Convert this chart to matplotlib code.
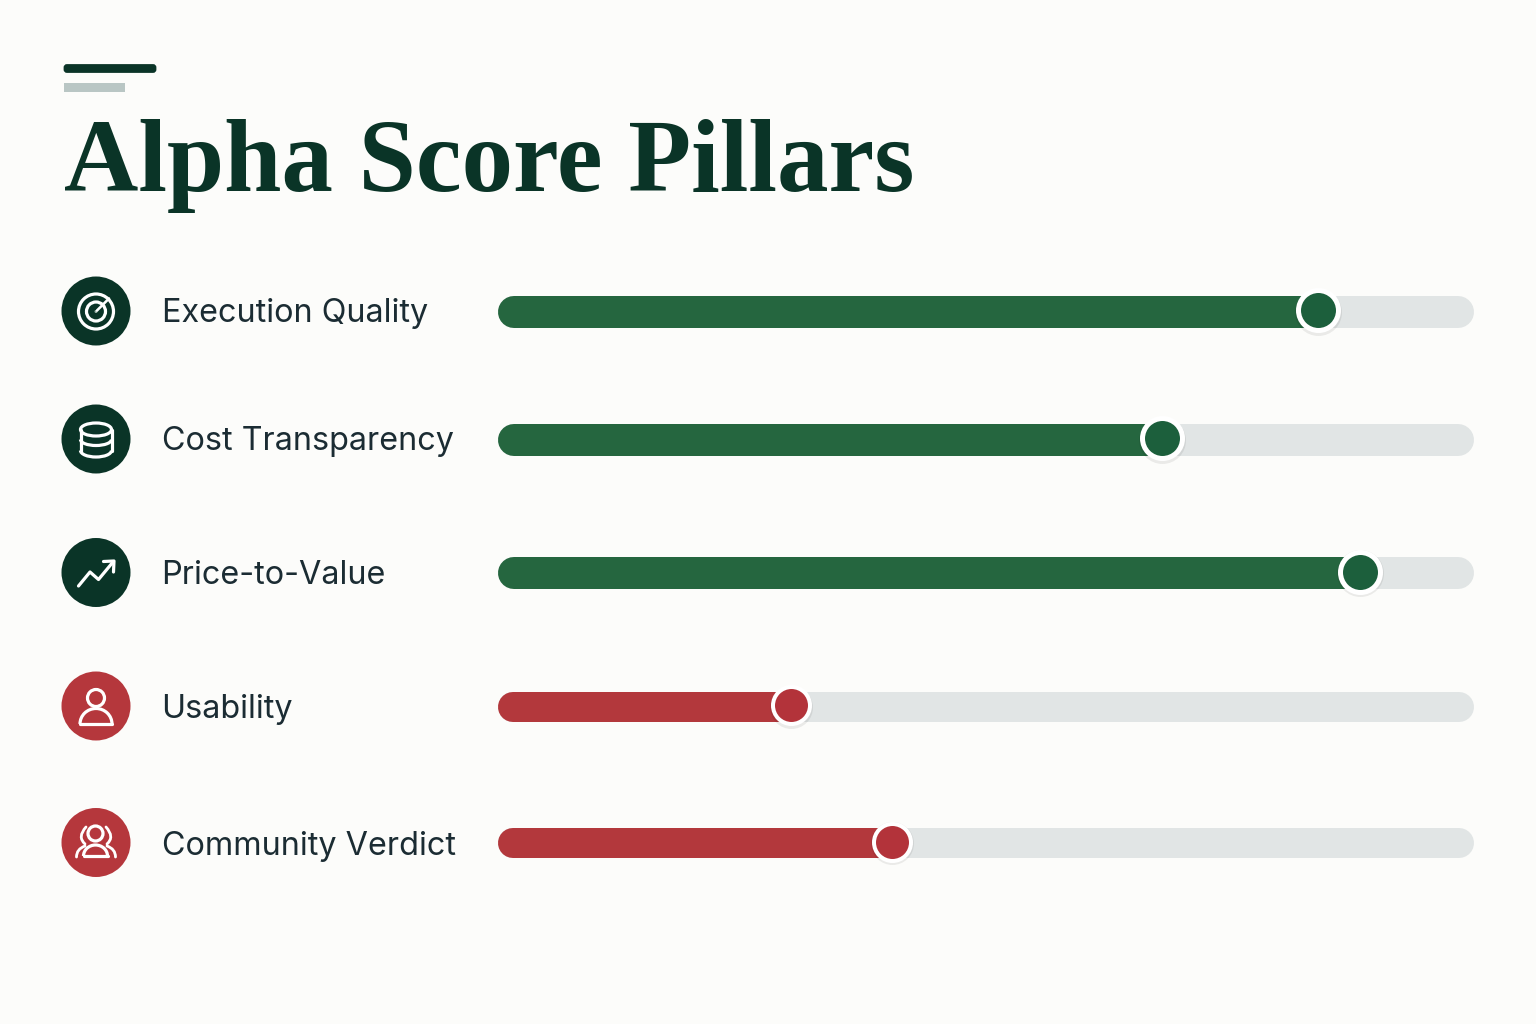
import matplotlib
matplotlib.use("Agg")
import matplotlib.pyplot as plt
from matplotlib.patches import Circle, Ellipse, Arc, FancyBboxPatch, PathPatch, Rectangle
from matplotlib.path import Path

labels = ["Execution Quality", "Cost Transparency", "Price-to-Value", "Usability", "Community Verdict"]
scores = [84.0, 68.0, 88.3, 30.0, 40.4]
status = ["good", "good", "good", "bad", "bad"]

row_y = [311.5, 439.5, 573, 706.5, 843]
bar_height = [32, 32, 32, 30, 30]
knob_r = [17.5, 17.5, 17.5, 16.5, 16.5]
knob_ring = [5, 5, 5, 4, 4]

BG = "#fcfcfa"
DARK = "#0a3427"
GREEN = "#25663f"
RED = "#b3383c"
TRACK = "#e1e5e5"
KNOB = {"good": "#1c5f3c", "bad": "#b3333a"}
BAR = {"good": GREEN, "bad": RED}
ICON = {"good": DARK, "bad": "#b5373c"}
PX = 0.72  # px to points at dpi 100

fig = plt.figure(figsize=(15.36, 10.24), dpi=100, facecolor=BG)

# page axes in pixels, for title and icons
page = fig.add_axes([0, 0, 1, 1])
page.set_xlim(0, 1536)
page.set_ylim(1024, 0)
page.axis("off")

page.add_patch(FancyBboxPatch((65, 65.5), 90, 6, boxstyle="round,pad=0,rounding_size=2", fc=DARK, ec=DARK, lw=2))
page.add_patch(Rectangle((63.5, 83), 61.5, 8.5, fc="#b9c6c4", ec="none"))
page.text(64, 191, "Alpha Score Pillars", family="Liberation Serif", weight="bold",
          fontsize=74.2, color=DARK, va="baseline", ha="left")


def stroke(points, lw=3.2):
    xs, ys = zip(*points)
    page.plot(xs, ys, color="white", lw=lw * PX, solid_capstyle="round", solid_joinstyle="round", zorder=4)


def ring(x, y, r, lw=3.2):
    page.add_patch(Circle((x, y), r, fc="none", ec="white", lw=lw * PX, zorder=4))


def curve(points, lw=3.2):
    # quadratic curve through a control point
    path = Path(points, [Path.MOVETO, Path.CURVE3, Path.CURVE3])
    page.add_patch(PathPatch(path, fc="none", ec="white", lw=lw * PX, capstyle="round", zorder=4))


def dome(x, base, w, h, lw=3.2):
    page.add_patch(Arc((x, base), w, 2 * h, theta1=180, theta2=360, ec="white", lw=lw * PX, zorder=4))


def target_icon(x, y):
    ring(x, y, 17.5)
    ring(x, y, 9.5)
    page.add_patch(Circle((x, y), 1.5, fc="#9fb5ab", ec="none", zorder=4))
    stroke([(x + 1, y - 1), (x + 13, y - 13)], 2.6)


def database_icon(x, y):
    page.add_patch(Ellipse((x, y - 10), 31, 13, fc="none", ec="white", lw=3.2 * PX, zorder=4))
    stroke([(x - 15.5, y - 10), (x - 15.5, y + 11)], 3.2)
    stroke([(x + 15.5, y - 10), (x + 15.5, y + 11)], 3.2)
    page.add_patch(Arc((x, y), 31, 12, theta1=0, theta2=180, ec="white", lw=3.2 * PX, zorder=4))
    page.add_patch(Arc((x, y + 11), 31, 13, theta1=0, theta2=180, ec="white", lw=3.2 * PX, zorder=4))


def trend_icon(x, y):
    stroke([(x - 17.5, y + 13), (x - 6, y - 1), (x + 2.5, y + 6.5), (x + 17, y - 11)])
    stroke([(x + 7.5, y - 11.5), (x + 18, y - 12), (x + 17.5, y - 1)])


def person_icon(x, y):
    ring(x, y - 8.5, 8.5)
    dome(x, y + 17.5, 32, 15.5)
    stroke([(x - 16, y + 17.5), (x + 16, y + 17.5)])


def group_icon(x, y):
    ring(x - 0.5, y - 9.5, 7.5)
    dome(x - 0.5, y + 13, 24, 11)
    stroke([(x - 12.5, y + 13), (x + 11.5, y + 13)])
    for side in (-1, 1):
        curve([(x + side * 10, y - 16), (x + side * 19, y - 6), (x + side * 11, y + 1)], 2.8)
        curve([(x + side * 11, y + 3), (x + side * 19.5, y + 6), (x + side * 19.5, y + 14)], 2.8)


icons = [target_icon, database_icon, trend_icon, person_icon, group_icon]
label_base = [322, 450, 584, 718, 855]

for i in range(len(labels)):
    page.add_patch(Circle((96, row_y[i] - 0.5), 34.5, fc=ICON[status[i]], ec="none", zorder=3))
    icons[i](96, row_y[i])
    page.text(161.5, label_base[i], labels[i], family="Inter", fontsize=23.3, color="#1b2c33",
              va="baseline", ha="left")

# bars share a 0-100 axis laid over the track width
ax = fig.add_axes([498 / 1536, 0, 976 / 1536, 1])
ax.set_xlim(0, 100)
ax.set_ylim(1024, 0)
ax.axis("off")
ax.patch.set_alpha(0)

for i in range(len(labels)):
    cap = bar_height[i] / 2 / 976 * 100
    lw = bar_height[i] * PX
    knob_y = row_y[i] - 1.5
    ax.plot([cap, 100 - cap], [row_y[i], row_y[i]], color=TRACK, lw=lw, solid_capstyle="round", zorder=1)
    ax.plot([cap, scores[i]], [row_y[i], row_y[i]], color=BAR[status[i]], lw=lw, solid_capstyle="round", zorder=2)
    # soft shadow under the knob
    outer = knob_r[i] + knob_ring[i]
    ax.plot(scores[i], knob_y + 1.5, "o", ms=2 * (outer + 1) * PX, mfc="#000000", mec="none", alpha=0.07, zorder=3)
    ax.plot(scores[i], knob_y, "o", ms=2 * (knob_r[i] + knob_ring[i] / 2) * PX, mfc=KNOB[status[i]],
            mec="white", mew=knob_ring[i] * PX, zorder=4)

fig.savefig("out.png", dpi=100, facecolor=BG)
